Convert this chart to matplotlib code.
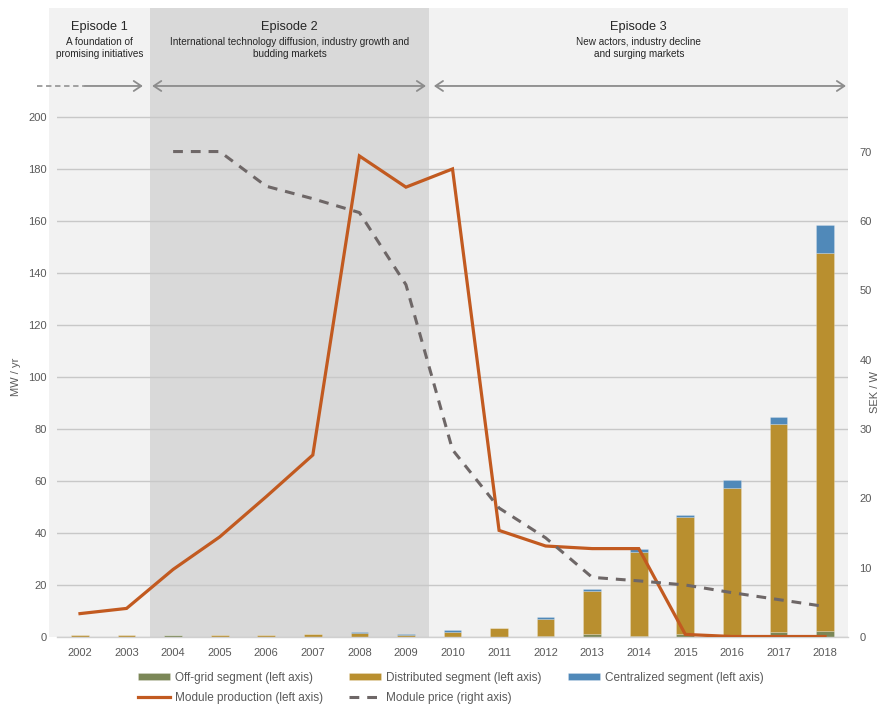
import numpy as np
import matplotlib
matplotlib.use("Agg")
import matplotlib.pyplot as plt

plt.rcParams['font.family'] = ['Liberation Sans', 'DejaVu Sans'];

years = list(range(2002, 2019));
year_labels = [str(y) for y in years];
offgrid = [0, 0, 0.6, 0, 0, 0, 0, 0, 0.1, 0, 0.5, 1.2, 0.5, 1.2, 0.5, 1.8, 2.2];
distributed = [0.6, 0.6, 0, 0.6, 0.6, 1.0, 1.7, 0.9, 2.0, 3.4, 6.5, 16.6, 32.1, 44.8, 56.7, 80.0, 145.4];
centralized = [0, 0, 0, 0, 0, 0.2, 0.1, 0.4, 0.5, 0.1, 0.6, 0.8, 1.2, 0.9, 3.2, 2.9, 10.9];
production = [9, 11, 26, 38.5, 54, 70, 185, 173, 180, 41, 35, 34, 34, 1.0, 0.2, 0.2, 0.2];
price_years = list(range(2004, 2019));
price = [70, 70, 65, 63.2, 61.2, 50.8, 27, 18.6, 14.3, 8.6, 8.1, 7.5, 6.4, 5.4, 4.4];

episodes = ["Episode 1", "Episode 2", "Episode 3"];
episode_text = ["A foundation of\npromising initiatives",
                "International technology diffusion, industry growth and\nbudding markets",
                "New actors, industry decline\nand surging markets"];
episode_bounds = [(2001.335, 2003.5), (2003.5, 2009.5), (2009.5, 2018.5)];
episode_colors = ["#f2f2f2", "#d9d9d9", "#f2f2f2"];

c_off = "#7b8757";
c_dist = "#b98f2f";
c_cent = "#5089b9";
c_prod = "#c25a20";
c_price = "#6e6767";
c_tick = "#595959";

fig = plt.figure(figsize=(8.82, 7.06), dpi=100);
ax = fig.add_axes([0.0643, 0.0977, 0.8975, 0.891]);

for (a, b), col in zip(episode_bounds, episode_colors):
    ax.axvspan(a, b, color=col, zorder=0, lw=0, clip_on=False);

x = np.array(years);
off = np.array(offgrid);
dist = np.array(distributed);
cent = np.array(centralized);
w = 0.38;
ec = (1, 1, 1, 0.35);
ax.bar(x, off, w, color=c_off, edgecolor=ec, lw=0.4, zorder=2, label="Off-grid segment (left axis)");
ax.bar(x, dist, w, bottom=off, color=c_dist, edgecolor=ec, lw=0.4, zorder=2, label="Distributed segment (left axis)");
ax.bar(x, cent, w, bottom=off + dist, color=c_cent, edgecolor=ec, lw=0.4, zorder=2, label="Centralized segment (left axis)");
ax.plot(x, production, color=c_prod, lw=2.3, zorder=4, solid_joinstyle='miter', label="Module production (left axis)");

ax.set_xlim(2001.5, 2018.5);
ax.set_ylim(0, 241.9);
ax.set_yticks(range(0, 201, 20));
ax.set_xticks(years);
ax.set_xticklabels(year_labels);
ax.set_axisbelow(True);
ax.grid(axis='y', color='#c8c8c8', lw=1.0);
for s in ['top', 'left', 'right']:
    ax.spines[s].set_visible(False);
ax.spines['bottom'].set_color('#d0d0d0');
ax.spines['bottom'].set_linewidth(1.0);
ax.tick_params(axis='both', length=0, labelsize=8, labelcolor=c_tick);
ax.tick_params(axis='x', pad=8);
ax.tick_params(axis='y', pad=7);

ax2 = ax.twinx();
ax2.plot(price_years, price, color=c_price, lw=2.2, dashes=(3.2, 2.6), zorder=3, label="Module price (right axis)");
ax2.set_ylim(0, 90.7);
ax2.set_yticks(range(0, 71, 10));
for s in ax2.spines.values():
    s.set_visible(False);
ax2.tick_params(axis='y', length=0, labelsize=8, labelcolor=c_tick, pad=8);

fig.text(0.018, 0.466, "MW / yr", rotation=90, ha='center', va='center', fontsize=8, color=c_tick);
fig.text(0.9925, 0.445, "SEK / W", rotation=90, ha='center', va='center', fontsize=8, color=c_tick);

trans = ax.get_xaxis_transform();
for (a, b), name, sub in zip(episode_bounds, episodes, episode_text):
    cx = (a + b) / 2;
    ax.text(cx, 0.970, name, transform=trans, ha='center', va='center', fontsize=9.2, color='#262626');
    ax.text(cx, 0.936, sub, transform=trans, ha='center', va='center', fontsize=7.2, color='#262626', linespacing=1.2);

ya = 0.876;
arrow_col = '#8c8c8c';
ax.annotate("", xy=(2003.35, ya), xytext=(2002.11, ya), xycoords=trans, textcoords=trans,
            arrowprops=dict(arrowstyle='->,head_length=0.45,head_width=0.3', color=arrow_col, lw=1.3,
                            shrinkA=0, shrinkB=0, mutation_scale=12), annotation_clip=False);
ax.plot([2001.08, 2002.11], [ya, ya], transform=trans, color='#9a9a9a', lw=1.3, ls=(0, (3, 2)), clip_on=False);
ax.annotate("", xy=(2009.43, ya), xytext=(2003.55, ya), xycoords=trans, textcoords=trans,
            arrowprops=dict(arrowstyle='<->,head_length=0.45,head_width=0.3', color=arrow_col, lw=1.3,
                            shrinkA=0, shrinkB=0, mutation_scale=12), annotation_clip=False);
ax.annotate("", xy=(2018.45, ya), xytext=(2009.6, ya), xycoords=trans, textcoords=trans,
            arrowprops=dict(arrowstyle='<->,head_length=0.45,head_width=0.3', color=arrow_col, lw=1.3,
                            shrinkA=0, shrinkB=0, mutation_scale=12), annotation_clip=False);

h1, l1 = ax.get_legend_handles_labels();
h2, l2 = ax2.get_legend_handles_labels();
hd = dict(zip(l1 + l2, h1 + h2));
order = ["Off-grid segment (left axis)", "Module production (left axis)",
         "Distributed segment (left axis)", "Module price (right axis)",
         "Centralized segment (left axis)"];
fig.legend([hd[k] for k in order], order, loc='upper left', bbox_to_anchor=(0.150, 0.057),
           ncol=3, frameon=False, fontsize=8.5, handlelength=2.7, handleheight=0.6,
           handletextpad=0.4, columnspacing=2.25, labelspacing=0.72, borderpad=0,
           labelcolor=c_tick);

fig.savefig("out.png", dpi=100);
